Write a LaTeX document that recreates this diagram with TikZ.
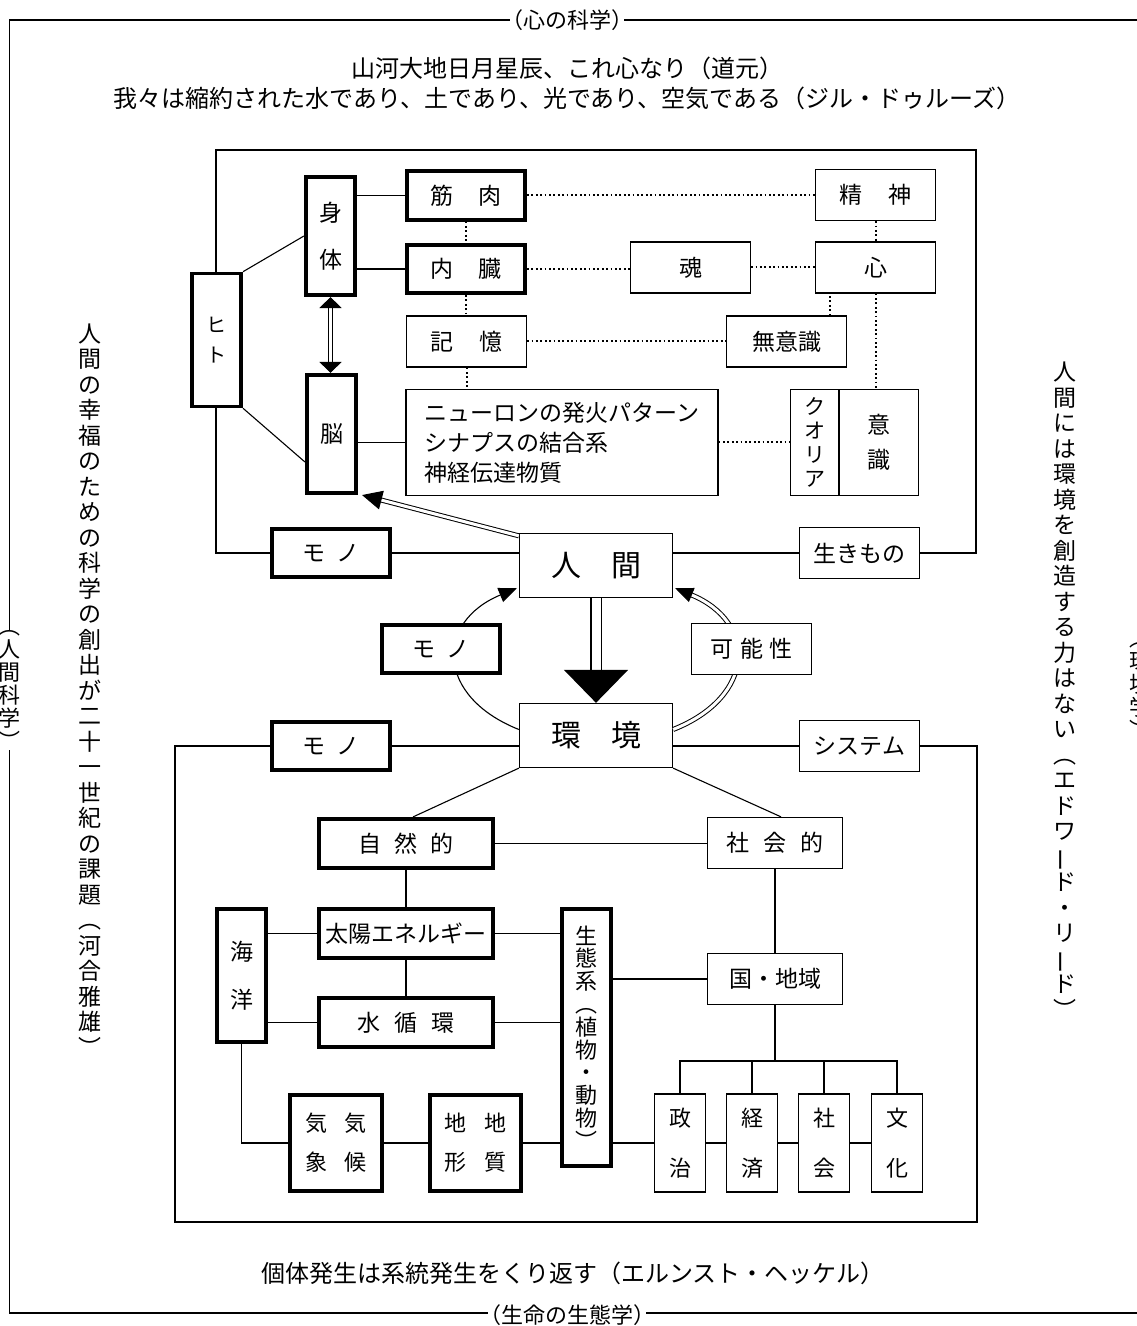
\documentclass[tikz,border=0pt]{standalone}
\usepackage{fontspec}
\setmainfont{Noto Sans CJK JP}
\usepackage{graphicx}
\usetikzlibrary{arrows.meta,positioning}

% vertical long vowel mark
\newcommand{\tatebo}{\rotatebox[origin=c]{90}{ー}}

\begin{document}
\begin{tikzpicture}[x=1pt, y=1pt, line cap=butt,
  link/.style={line width=1.1pt},
  dotlink/.style={line width=2pt, line cap=butt, dash pattern=on 1.8pt off 2.6pt},
  dline/.style={double, double distance=3pt, line width=1pt},
  box/.style={draw, line width=1.3pt, fill=white, inner sep=0pt,
    minimum width=120pt, minimum height=51pt, font=\fontsize{23}{26}\selectfont},
  bbox/.style={box, line width=3.6pt, minimum width=118.5pt, minimum height=48.5pt},
  bigbox/.style={minimum width=153pt, minimum height=64pt, font=\fontsize{30}{34}\selectfont},
  tate/.style={align=center, minimum width=49.5pt},
  quote/.style={inner sep=0pt, font=\fontsize{24}{28}\selectfont},
  side/.style={inner sep=0pt, align=center, font=\fontsize{23}{25.5}\selectfont},
  rim/.style={fill=white, inner sep=0pt, font=\fontsize{22}{23}\selectfont}]

\useasboundingbox (0,0) rectangle (1137,1326);

% --- layout helpers ---
\def\midx{596}     % human / environment column
\def\qx{567}       % centre of the quotes

% --- outer frame and its labels ---
\draw[link] (9.5,13) rectangle (1140,1306);
\node[rim] (toplabel) at (\qx,1306) {\kern-.42em（心の科学）\kern-.42em};
\node[rim] (botlabel) at (\qx,11) {\kern-.42em（生命の生態学）\kern-.42em};
\node[rim, align=center] (leftlabel) at (9.5,636) {︵\\人\\間\\科\\学\\︶};
\node[rim, align=center] (rightlabel) at (1140,636) {︵\\環\\境\\学\\︶};

% --- quotes ---
\node[quote] (dogen) at (\qx,1258) {山河大地日月星辰、これ心なり（道元）};
\node[quote] (deleuze) at (\qx,1228) {我々は縮約された水であり、土であり、光であり、空気である（ジル・ドゥルーズ）};
\node[quote] (haeckel) at (573,53) {個体発生は系統発生をくり返す（エルンスト・ヘッケル）};
\node[side] (kawai) at (90,636) {人\\間\\の\\幸\\福\\の\\た\\め\\の\\科\\学\\の\\創\\出\\が\\二\\十\\一\\世\\紀\\の\\課\\題\\︵\\河\\合\\雅\\雄\\︶};
\node[side] (reed) at (1065,636) {人\\間\\に\\は\\環\\境\\を\\創\\造\\す\\る\\力\\は\\な\\い\\︵\\エ\\ド\\ワ\\\tatebo\\ド\\・\\リ\\\tatebo\\ド\\︶};

% --- inner frames ---
\draw[link] (216,773) rectangle (976,1176);
\draw[link] (175,104) rectangle (977,580);

% --- upper block: body and mind ---
\node[bbox, tate, minimum height=133pt, font=\fontsize{20}{30}\selectfont] (hito) at (216.5,986) {ヒ\\ト};
\node[bbox, tate, minimum height=118.5pt, font=\fontsize{23}{47}\selectfont] (shintai) at (330.5,1090) {身\\体};
\node[bbox, tate, minimum height=118.5pt] (nou) at (331.5,892) {脳};
\node[bbox] (kinniku) at (466,1130.5) {筋\hspace{1.1em}肉};
\node[bbox] (naizou) at (466,1057) {内\hspace{1.1em}臓};
\node[box] (kioku) at (466.5,984.5) {記\hspace{1.1em}憶};
\node[box, minimum width=312pt, minimum height=106pt, align=left,
  font=\fontsize{23}{30}\selectfont] (neuron) at (562,883.5)
  {ニューロンの発火パターン\\シナプスの結合系\\神経伝達物質};
\node[box] (seishin) at (875.5,1131) {精\hspace{1.1em}神};
\node[box] (kokoro) at (875.5,1058.5) {心};
\node[box] (tamashii) at (690.5,1058.5) {魂};
\node[box] (muishiki) at (786.5,984.5) {無意識};
\node[box, tate, minimum width=48pt, minimum height=106pt, font=\fontsize{21}{24}\selectfont] (qualia) at (814.5,883.5) {ク\\オ\\リ\\ア};
\node[box, tate, minimum width=79pt, minimum height=106pt, font=\fontsize{23}{35}\selectfont] (ishiki) at (879,883.5) {意\\識};

% --- middle: human and environment ---
\node[bbox] (mono1) at (331,773) {モ\hspace{.45em}ノ};
\node[box, bigbox] (human) at (\midx,760.5) {人\hspace{1em}間};
\node[box] (ikimono) at (859.5,773) {生きもの};
\node[box, bigbox] (env) at (\midx,590.5) {環\hspace{1em}境};
\node[bbox] (mono3) at (331,580) {モ\hspace{.45em}ノ};
\node[box] (system) at (859.5,580) {システム};

% cycle between human and environment
\draw[link, -{Triangle[width=15pt,length=18pt]}] ([yshift=6pt]env.west)
  .. controls +(-83,33) and +(-82,-34) .. ([xshift=-2pt,yshift=10pt]human.south west);
\draw[dline, -{Triangle[width=15pt,length=18pt]}] ([yshift=6pt]env.east)
  .. controls +(83,33) and +(82,-34) .. ([xshift=2pt,yshift=10pt]human.south east);
\node[bbox] (mono2) at (441,677) {モ\hspace{.45em}ノ};
\node[box] (kanousei) at (751.5,677) {可\hspace{.3em}能\hspace{.3em}性};

% --- lower block: nature and society ---
\node[bbox, minimum width=174.5pt, minimum height=49.5pt] (shizen) at (406,482.5) {自\hspace{.55em}然\hspace{.55em}的};
\node[box, minimum width=135pt] (shakai) at (775,483) {社\hspace{.6em}会\hspace{.6em}的};
\node[bbox, minimum width=174.5pt, minimum height=49.5pt] (taiyou) at (406,392.5) {太陽エネルギー};
\node[bbox, minimum width=174.5pt, minimum height=49.5pt] (mizu) at (406,303.5) {水\hspace{.6em}循\hspace{.6em}環};
\node[bbox, tate, minimum height=133.5pt, font=\fontsize{23}{48}\selectfont] (kaiyou) at (241.5,350.5) {海\\洋};
\node[bbox, tate, minimum height=257.5pt, font=\fontsize{22}{22.8}\selectfont] (seitai) at (586.5,288.5) {生\\態\\系\\︵\\植\\物\\・\\動\\物\\︶};
\node[box, minimum width=135pt] (kuni) at (775,347) {国・地域};
\node[bbox, minimum width=92.5pt, minimum height=96.5pt, align=center,
  font=\fontsize{22}{39}\selectfont] (kishou) at (336,183) {気\hspace{.8em}気\\象\hspace{.8em}候};
\node[bbox, minimum width=91.5pt, minimum height=96.5pt, align=center,
  font=\fontsize{22}{39}\selectfont] (chikei) at (475.5,183) {地\hspace{.8em}地\\形\hspace{.8em}質};
\node[box, tate, minimum width=51pt, minimum height=98pt, font=\fontsize{22}{50}\selectfont] (seiji) at (680,183) {政\\治};
\node[box, tate, minimum width=51pt, minimum height=98pt, font=\fontsize{22}{50}\selectfont] (keizai) at (752,183) {経\\済};
\node[box, tate, minimum width=51pt, minimum height=98pt, font=\fontsize{22}{50}\selectfont] (shakai2) at (824,183) {社\\会};
\node[box, tate, minimum width=51pt, minimum height=98pt, font=\fontsize{22}{50}\selectfont] (bunka) at (897,183) {文\\化};
\coordinate (bus) at (775,265);

% --- solid links, upper block ---
\draw[link] (hito.north east) -- (shintai.west);
\draw[link] (hito.south east) -- ([yshift=-28pt]nou.west);
\draw[link] (kinniku.west) -- (kinniku.west -| shintai.east);
\draw[link] (naizou.west) -- (naizou.west -| shintai.east);
\draw[link] (neuron.west) -- (neuron.west -| nou.east);

% --- dotted links ---
\draw[dotlink] (kinniku.east) -- (kinniku.east -| seishin.west);
\draw[dotlink] (naizou.east) -- (naizou.east -| tamashii.west);
\draw[dotlink] (tamashii) -- (kokoro);
\draw[dotlink] (kioku.east) -- (kioku.east -| muishiki.west);
\draw[dotlink] (neuron.east) -- (neuron.east -| qualia.west);
\draw[dotlink] (kinniku) -- (naizou);
\draw[dotlink] (naizou) -- (kioku.north -| naizou.south);
\draw[dotlink] (kioku.south) -- (kioku.south |- neuron.north);
\draw[dotlink] (seishin) -- (kokoro);
\draw[dotlink] ([xshift=43.5pt]muishiki.north) -- ([xshift=43.5pt]muishiki.north |- kokoro.south);
\draw[dotlink] (kokoro.south) -- (kokoro.south |- ishiki.north);

% --- arrows ---
\draw[dline, {Triangle[width=22pt,length=11pt]}-{Triangle[width=22pt,length=11pt]}]
  (shintai.south) -- (shintai.south |- nou.north);
\draw[dline, -{Triangle[width=19pt,length=20pt]}] ([yshift=-3pt]human.north west) -- ([xshift=4pt]nou.south east);
\draw[double, double distance=9pt, line width=1.5pt, -{Triangle[width=64pt,length=33pt]}] (human) -- (env);

% --- solid links, lower block ---
\draw[link] (env.south west) -- ([xshift=7pt]shizen.north);
\draw[link] (env.south east) -- ([xshift=6pt]shakai.north);
\draw[link] (shizen.east) -- (shizen.east -| shakai.west);
\draw[link] (shizen) -- (taiyou);
\draw[link] (taiyou) -- (mizu);
\draw[link] (taiyou.west) -- (taiyou.west -| kaiyou.east);
\draw[link] (mizu.west) -- (mizu.west -| kaiyou.east);
\draw[link] (taiyou.east) -- (taiyou.east -| seitai.west);
\draw[link] (mizu.east) -- (mizu.east -| seitai.west);
\draw[link] (kuni.west) -- (kuni.west -| seitai.east);
\draw[link] (shakai) -- (kuni);
\draw[link] (kuni) -- (bus);
\draw[link] (seiji.north) |- (bus) -| (bunka.north);
\draw[link] (keizai.north) -- (keizai.north |- bus);
\draw[link] (shakai2.north) -- (shakai2.north |- bus);
\draw[link] (kaiyou.south) |- (kishou.west);
\draw[link] (kishou) -- (chikei);
\draw[link] (chikei.east) -- (chikei.east -| seitai.west);
\draw[link] (seiji.west -| seitai.east) -- (seiji.west);
\draw[link] (seiji) -- (keizai);
\draw[link] (keizai) -- (shakai2);
\draw[link] (shakai2) -- (bunka);

\end{tikzpicture}
\end{document}
